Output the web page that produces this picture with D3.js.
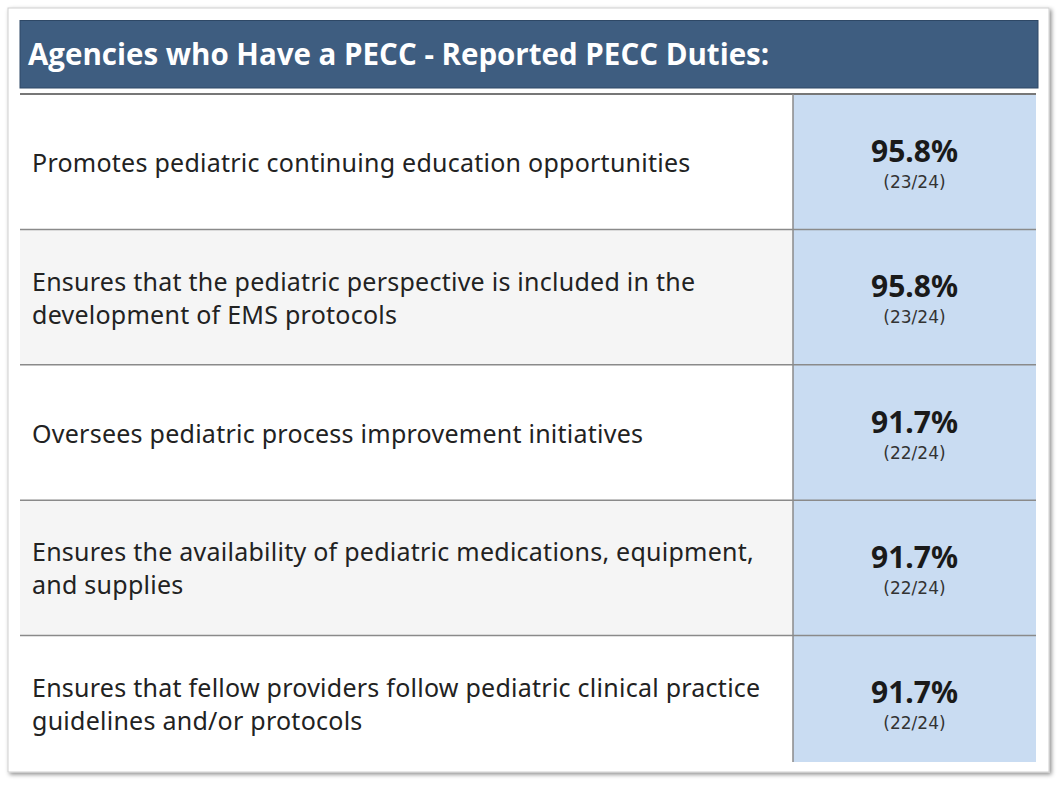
<!DOCTYPE html>
<html><head><meta charset="utf-8">
<script src="https://cdn.jsdelivr.net/npm/d3@7"></script>
<style>
html,body{margin:0;padding:0;background:#fff;}
svg{display:block;}
</style></head>
<body>
<svg id="chart" width="1058" height="785"></svg>
<script>
const title = "Agencies who Have a PECC - Reported PECC Duties:";
const duties = [
  ["Promotes pediatric continuing education opportunities"],
  ["Ensures that the pediatric perspective is included in the", "development of EMS protocols"],
  ["Oversees pediatric process improvement initiatives"],
  ["Ensures the availability of pediatric medications, equipment,", "and supplies"],
  ["Ensures that fellow providers follow pediatric clinical practice", "guidelines and/or protocols"]
];
const percents = [95.8, 95.8, 91.7, 91.7, 91.7];
const counts = ["23/24", "23/24", "22/24", "22/24", "22/24"];

const svg = d3.select("#chart");
const defs = svg.append("defs");
const f = defs.append("filter").attr("id","sh").attr("x","-5%").attr("y","-5%").attr("width","110%").attr("height","110%");
f.append("feDropShadow").attr("dx",2).attr("dy",2).attr("stdDeviation",2).attr("flood-color","#000").attr("flood-opacity",0.45);
defs.append("clipPath").attr("id","tbl").append("rect").attr("x",0).attr("y",0).attr("width",1058).attr("height",762);

// card
svg.append("rect").attr("x",8).attr("y",8).attr("width",1041).attr("height",764)
  .attr("fill","#fff").attr("stroke","#cfcfcf").attr("stroke-width",1).attr("filter","url(#sh)");

// header
svg.append("rect").attr("x",20).attr("y",20.5).attr("width",1018).attr("height",67.5)
  .attr("fill","#3e5d80").attr("stroke","#2e4866").attr("stroke-width",1);
svg.append("text").attr("x",28).attr("y",65).text(title)
  .attr("fill","#fff").attr("font-family","'Open Sans', 'Noto Sans', sans-serif")
  .attr("font-weight","bold").attr("font-size",29.5);

const idx = d3.range(duties.length);
const y = d3.scaleBand().domain(idx).range([94, 771]).padding(0);
const x0 = 20, xDiv = 793, x1 = 1036;

const table = svg.append("g").attr("clip-path","url(#tbl)");
const rows = table.append("g").selectAll("g").data(idx).join("g");
rows.append("rect").attr("x",x0).attr("y",i=>y(i)).attr("width",xDiv-x0).attr("height",y.bandwidth())
  .attr("fill",i=> i%2 ? "#f5f5f5" : "#ffffff");
rows.append("rect").attr("x",xDiv).attr("y",i=>y(i)).attr("width",x1-xDiv).attr("height",y.bandwidth())
  .attr("fill","#c9dcf2");

rows.each(function(i){
  const g = d3.select(this);
  const lines = duties[i];
  const cy = y(i) + y.bandwidth()/2;
  const lh = 33;
  const t = g.append("text").attr("font-family","'Noto Sans', sans-serif").attr("font-size",25)
    .attr("fill","#222").attr("letter-spacing",0.25);
  lines.forEach((ln,k)=>{
    t.append("tspan").attr("x",32).attr("y", cy + (k - (lines.length-1)/2)*lh + 10).text(ln);
  });
  const cx = (xDiv + x1)/2;
  g.append("text").attr("x",cx).attr("y",cy).attr("text-anchor","middle")
    .attr("font-family","'Noto Sans', sans-serif").attr("font-weight","bold").attr("font-size",30)
    .attr("fill","#1a1a1a").text(percents[i].toFixed(1)+"%");
  g.append("text").attr("x",cx).attr("y",cy+26).attr("text-anchor","middle")
    .attr("font-family","'DejaVu Sans', Verdana, sans-serif").attr("font-size",17)
    .attr("fill","#333").text("("+counts[i]+")");
});

const seps = idx.slice(1).map(i=>y(i));
table.append("g").selectAll("line").data(seps).join("line")
  .attr("x1",x0).attr("x2",x1).attr("y1",d=>d).attr("y2",d=>d)
  .attr("stroke","#8a8a8a").attr("stroke-width",1.5);
svg.append("line").attr("x1",x0).attr("x2",x1).attr("y1",94).attr("y2",94).attr("stroke","#777").attr("stroke-width",2);
svg.append("line").attr("x1",xDiv).attr("x2",xDiv).attr("y1",94).attr("y2",762).attr("stroke","#8a8a8a").attr("stroke-width",1.5);
</script>
</body></html>
